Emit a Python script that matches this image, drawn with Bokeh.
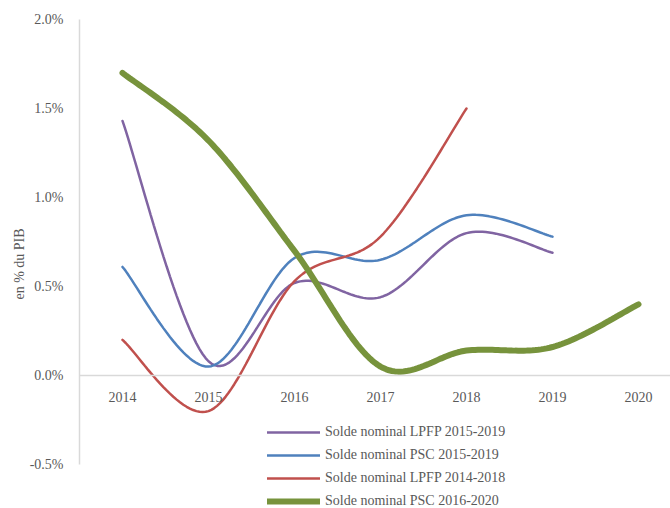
from bokeh.plotting import figure
from bokeh.models import Legend, LegendItem, PrintfTickFormatter, FixedTicker, Range1d, Span, ColumnDataSource
from bokeh.embed import file_html
from bokeh.resources import INLINE
import numpy as np

years_a = [2014, 2015, 2016, 2017, 2018, 2019]
lpfp_2015_2019 = [1.43, 0.08, 0.52, 0.44, 0.80, 0.69]
psc_2015_2019 = [0.61, 0.05, 0.66, 0.65, 0.90, 0.78]
years_b = [2014, 2015, 2016, 2017, 2018]
lpfp_2014_2018 = [0.20, -0.20, 0.53, 0.78, 1.50]
years_c = [2014, 2015, 2016, 2017, 2018, 2019, 2020]
psc_2016_2020 = [1.70, 1.32, 0.70, 0.05, 0.14, 0.16, 0.40]
year_labels = ["2014", "2015", "2016", "2017", "2018", "2019", "2020"]
y_ticks = [-0.5, 0.0, 0.5, 1.0, 1.5, 2.0]
labels = ["Solde nominal LPFP 2015-2019", "Solde nominal PSC 2015-2019",
          "Solde nominal LPFP 2014-2018", "Solde nominal PSC 2016-2020"]


def smooth(xs, ys, n=30):
    P = np.column_stack([xs, ys]).astype(float)
    m = len(P)
    out = []
    for i in range(m - 1):
        p0 = P[i - 1] if i > 0 else P[i]
        p1 = P[i]
        p2 = P[i + 1]
        p3 = P[i + 2] if i + 2 < m else P[i + 1]
        b1 = p1 + (p2 - p0) / 6.0
        b2 = p2 - (p3 - p1) / 6.0
        t = np.linspace(0, 1, n, endpoint=(i == m - 2))[:, None]
        seg = ((1 - t) ** 3) * p1 + 3 * ((1 - t) ** 2) * t * b1 + 3 * (1 - t) * t ** 2 * b2 + t ** 3 * p2
        out.append(seg)
    a = np.vstack(out)
    return a[:, 0], a[:, 1]


FONT = "Liberation Serif"
GREY = "#595959"

W = 670
H = 508
TOP = 19
LEFT = 79
y_start = 2.0 - (H - TOP) / 178.0
x_end = 2013.5 + (W - LEFT) / 86.0

p = figure(width=W, height=H, output_backend="svg", toolbar_location=None,
           x_range=Range1d(2013.5, x_end), y_range=Range1d(y_start, 2.0),
           x_axis_location=None,
           min_border_left=LEFT, min_border_right=0, min_border_top=TOP, min_border_bottom=0)
p.outline_line_color = None
p.xgrid.visible = False
p.ygrid.visible = False

zero = Span(location=0, dimension="width", line_color="#d9d9d9", line_width=1.5)
p.add_layout(zero)

xs, ys = smooth(years_a, lpfp_2015_2019)
r1 = p.line(xs, ys, line_color="#8064a2", line_width=2.5, line_cap="round")
xs, ys = smooth(years_a, psc_2015_2019)
r2 = p.line(xs, ys, line_color="#4f81bd", line_width=2.5, line_cap="round")
xs, ys = smooth(years_b, lpfp_2014_2018)
r3 = p.line(xs, ys, line_color="#c0504d", line_width=2.5, line_cap="round")
xs, ys = smooth(years_c, psc_2016_2020)
r4 = p.line(xs, ys, line_color="#77933c", line_width=6, line_cap="round")

lab_src = ColumnDataSource(dict(x=years_c, y=[0.0] * len(years_c), t=year_labels))
p.text(x="x", y="y", text="t", source=lab_src, y_offset=21,
       text_align="center", text_baseline="middle",
       text_font={"value": FONT}, text_font_size="14px", text_color=GREY)

p.yaxis.ticker = FixedTicker(ticks=y_ticks)
p.yaxis.bounds = (-0.5, 2.0)
p.yaxis.formatter = PrintfTickFormatter(format="%.1f%%")
p.yaxis.axis_line_color = "#d9d9d9"
p.yaxis.axis_line_width = 1.5
p.yaxis.major_tick_line_color = None
p.yaxis.minor_tick_line_color = None
p.yaxis.major_tick_out = 0
p.yaxis.major_tick_in = 0
p.yaxis.minor_tick_out = 0
p.yaxis.minor_tick_in = 0
p.yaxis.major_label_standoff = 16
p.yaxis.major_label_text_font = FONT
p.yaxis.major_label_text_font_size = "14px"
p.yaxis.major_label_text_color = GREY
p.yaxis.axis_label = "en % du PIB"
p.yaxis.axis_label_standoff = 0
p.yaxis.axis_label_text_font = FONT
p.yaxis.axis_label_text_font_size = "14px"
p.yaxis.axis_label_text_font_style = "normal"
p.yaxis.axis_label_text_color = GREY

legend = Legend(items=[LegendItem(label=labels[0], renderers=[r1]),
                       LegendItem(label=labels[1], renderers=[r2]),
                       LegendItem(label=labels[2], renderers=[r3]),
                       LegendItem(label=labels[3], renderers=[r4])],
                location=(188, -3), orientation="vertical",
                padding=0, margin=0, spacing=3,
                glyph_width=53, glyph_height=20, label_height=20, label_standoff=5,
                label_text_font=FONT, label_text_font_size="14px", label_text_color=GREY,
                background_fill_alpha=0, border_line_color=None)
p.add_layout(legend, "center")

open("out.html", "w").write(file_html(p, INLINE))
